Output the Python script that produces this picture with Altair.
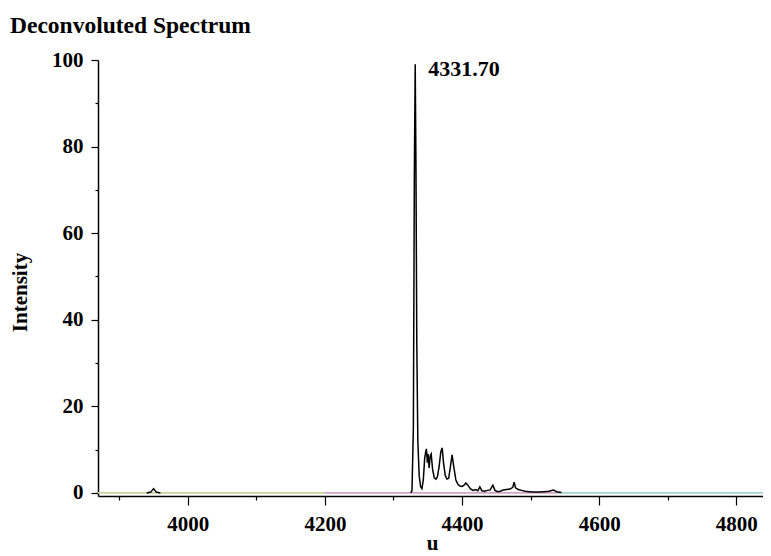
import altair as alt
import pandas as pd

# Main spectrum (mass u, intensity %)
peak_mass = [4325, 4327, 4329, 4330.5, 4331.7, 4332.8, 4334, 4335.5, 4337.5, 4339.5,
             4341.5, 4343.5, 4345.5, 4347, 4348, 4349.5, 4350.5, 4352, 4353.5, 4355,
             4357, 4359.5, 4362, 4364, 4366.5, 4369, 4371, 4373, 4375.5, 4378,
             4380.5, 4383, 4385.5, 4388, 4391, 4394, 4397, 4400, 4403, 4405.5,
             4408.5, 4412, 4416, 4420, 4423, 4426, 4429, 4433, 4437, 4441,
             4445, 4448, 4452, 4456, 4460, 4465, 4470, 4474, 4476, 4478,
             4482, 4487, 4492, 4498, 4505, 4512, 4520, 4527, 4533, 4538, 4545]
peak_int = [0, 0.5, 15, 75, 99, 75, 35, 12, 4, 1.5,
            1, 3, 8, 9.5, 10.2, 7, 9, 5.8, 8.5, 9,
            5.5, 3.5, 3.2, 3.7, 6, 9.5, 10.4, 7, 4, 3.2,
            3.4, 6, 8.8, 6, 3, 2, 1.6, 1.5, 1.8, 2.3,
            1.8, 1, 0.6, 0.8, 0.5, 1.4, 0.5, 0.4, 0.6, 0.7,
            1.8, 0.6, 0.3, 0.4, 0.7, 0.8, 0.9, 1.3, 2.5, 1.2,
            0.8, 0.6, 0.4, 0.3, 0.2, 0.2, 0.3, 0.4, 0.7, 0.3, 0.1]

# Small bump near 3950
bump_mass = [3940, 3946, 3950, 3954, 3960]
bump_int = [0, 0.2, 1.0, 0.2, 0]

# Baseline trace (pastel segments)
base_mass = [3869, 4200, 4200, 4540, 4540, 4839]
base_int = [0, 0, 0, 0, 0, 0]
base_seg = ["a", "a", "b", "b", "c", "c"]
base_colors = ["#c9d59a", "#d6a2c8", "#9fd6cf"]

x_ticks = list(range(3900, 4801, 50))
y_ticks = list(range(0, 101, 5))

annot_mass = [4331.7]
annot_int = [99]
annot_text = ["4331.70"]

X_DOMAIN = [3869, 4839]
Y_DOMAIN = [-0.7, 100]
SERIF = "Liberation Serif"

spec = pd.DataFrame({
    "u": peak_mass + bump_mass,
    "I": peak_int + bump_int,
    "seg": ["main"] * len(peak_mass) + ["bump"] * len(bump_mass),
})
base = pd.DataFrame({"u": base_mass, "I": base_int, "seg": base_seg})
annot = pd.DataFrame({"u": annot_mass, "I": annot_int, "t": annot_text})

x_enc = alt.X(
    "u:Q",
    scale=alt.Scale(domain=X_DOMAIN, nice=False, zero=False),
    axis=alt.Axis(
        title="u",
        values=x_ticks,
        format="d",
        labelExpr="datum.value % 200 == 0 ? datum.label : ''",
        tickSize={"condition": {"test": "datum.value % 200 != 0", "value": 4}, "value": 9},
        labelPadding=8,
        titleX=334,
        titleY=53,
        titleBaseline="alphabetic",
    ),
)
y_enc = alt.Y(
    "I:Q",
    scale=alt.Scale(domain=Y_DOMAIN, nice=False, zero=False),
    axis=alt.Axis(
        title="Intensity",
        values=y_ticks,
        labelExpr="datum.value % 20 == 0 ? datum.label : ''",
        tickSize={"condition": {"test": "datum.value % 20 != 0", "value": 3}, "value": 7},
        labelPadding=8,
        titleX=-72,
        titleY=232,
        titleBaseline="alphabetic",
    ),
)

baseline = alt.Chart(base).mark_line(strokeWidth=1.8).encode(
    x=x_enc, y=y_enc,
    color=alt.Color("seg:N", scale=alt.Scale(domain=["a", "b", "c"], range=base_colors), legend=None),
)

lines = alt.Chart(spec).mark_line(color="black", strokeWidth=1.5).encode(
    x="u:Q", y="I:Q", detail="seg:N"
)

label = alt.Chart(annot).mark_text(
    align="left", baseline="middle", dx=13, dy=5,
    font=SERIF, fontSize=22, fontWeight="bold", color="black",
).encode(x="u:Q", y="I:Q", text="t:N")

chart = alt.layer(baseline, lines, label).properties(
    width=665,
    height=436,
    autosize=alt.AutoSizeParams(type="none"),
    padding={"left": 90, "top": 52, "right": 0, "bottom": 60},
    title=alt.TitleParams(
        "Deconvoluted Spectrum",
        anchor="start",
        frame="group",
        dx=-88,
        dy=27,
        font=SERIF,
        fontSize=23.5,
        fontWeight="bold",
        color="black",
        baseline="alphabetic",
        offset=20,
    ),
).configure_view(stroke=None).configure_axis(
    grid=False,
    domainColor="black",
    domainWidth=1.5,
    tickColor="black",
    tickWidth=1.2,
    labelFont=SERIF,
    labelFontSize=21,
    labelFontWeight="bold",
    labelColor="black",
    titleFont=SERIF,
    titleFontSize=21,
    titleFontWeight="bold",
    titleColor="black",
).configure_axisX(labelFlush=False, labelOverlap=False).configure_axisY(labelOverlap=False)

chart.save("out.html", embed_options={"renderer": "svg", "actions": False})
